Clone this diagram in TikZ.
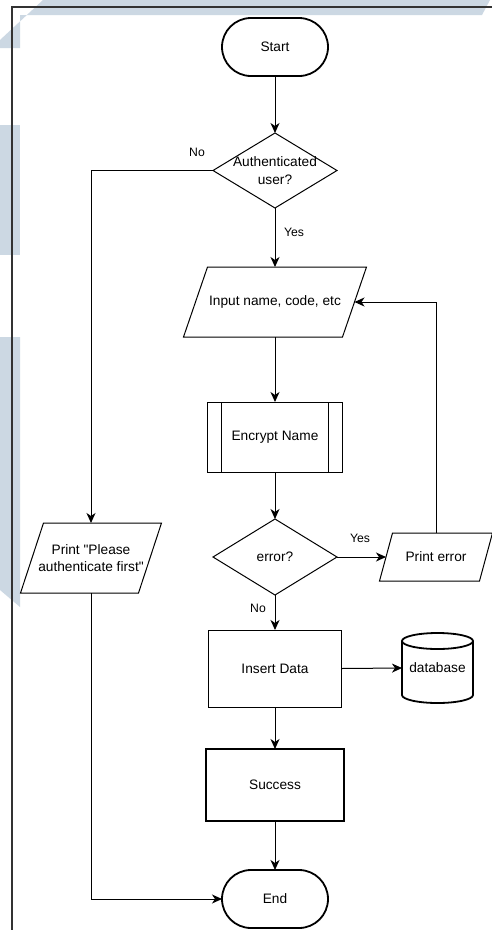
\documentclass[tikz,border=0pt]{standalone}
\usepackage{fontspec}
\newfontfamily\lsans{Liberation Sans}
\usetikzlibrary{shapes.geometric,arrows.meta,calc}
\definecolor{wm}{RGB}{204,216,227}
\definecolor{framec}{RGB}{51,51,51}
\begin{document}
\begin{tikzpicture}[x=1pt,y=1pt,
  every node/.style={font=\lsans\fontsize{13.7}{17.5}\selectfont, align=center, inner sep=0pt, outer sep=0pt},
  conn/.style={line width=1pt, -{Stealth[length=10pt,width=9pt,inset=3pt]}},
  term/.style={draw, line width=1.8pt, rectangle, rounded corners=29pt, minimum width=106pt, minimum height=58pt},
  proc/.style={draw, line width=1pt, rectangle},
  dec/.style={draw, line width=1pt, diamond, minimum width=124pt, minimum height=75pt},
  iobox/.style={rectangle},
  shapeline/.style={line width=1pt},
  lbl/.style={font=\lsans\fontsize{12.2}{14}\selectfont}
]
\fill[white] (0,0) rectangle (492,-930);
\useasboundingbox (0,0) rectangle (492,-930);
% watermark
\fill[wm] (43,0) -- (490,0) -- (482,-15) -- (20,-15) -- (20,-48) -- (0,-48) -- (0,-40) -- cycle;
\fill[wm] (0,-125) rectangle (20,-255);
\fill[wm] (0,-337) -- (20,-337) -- (20,-607) -- (0,-590) -- cycle;
% frame
\draw[framec, line width=1.2pt] (12,-931) -- (12,-7) -- (493,-7);

% nodes
\node[term] (start) at (275,-47) {Start};
\node[dec] (d1) at (275,-170.5) {};
\node (t1) at (d1) {Authenticated\\user?};

\node[iobox, minimum width=159pt, minimum height=70pt] (inp) at (275,-302) {Input name, code, etc};
\draw[shapeline] ([xshift=12pt]inp.north west) -- ([xshift=12pt]inp.north east) -- ([xshift=-12pt]inp.south east) -- ([xshift=-12pt]inp.south west) -- cycle;

\node[proc, minimum width=135pt, minimum height=70pt] (enc) at (275,-437) {Encrypt Name};
\draw[shapeline] ([xshift=14pt]enc.north west) -- ([xshift=14pt]enc.south west)
                 ([xshift=-14pt]enc.north east) -- ([xshift=-14pt]enc.south east);

\node[dec, minimum height=76pt] (d2) at (275,-557) {};
\node (t2) at (d2) {error?};

\node[iobox, minimum width=100pt, minimum height=48pt] (pe) at (436,-557) {Print error};
\draw[shapeline] ([xshift=6.5pt]pe.north west) -- ([xshift=6.5pt]pe.north east) -- ([xshift=-6.5pt]pe.south east) -- ([xshift=-6.5pt]pe.south west) -- cycle;

\node[proc, minimum width=133pt, minimum height=77pt] (ins) at (275,-668.5) {Insert Data};

\node[minimum width=71pt, minimum height=70pt] (db) at (437.5,-668) {database};
\draw[line width=1.8pt] ([yshift=-8pt]db.north) ellipse [x radius=35.5pt, y radius=8pt];
\draw[line width=1.8pt] ([yshift=-8pt]db.north west) -- ([yshift=8pt]db.south west)
   arc[start angle=180, end angle=360, x radius=35.5pt, y radius=8pt] -- ([yshift=-8pt]db.north east);

\node[proc, line width=2pt, minimum width=138pt, minimum height=72pt] (suc) at (275,-785) {Success};

\node[term] (end) at (275,-899) {End};

\node[iobox, minimum width=118pt, minimum height=70pt] (pp) at (91,-558) {Print "Please\\authenticate first"};
\draw[shapeline] ([xshift=11.5pt]pp.north west) -- ([xshift=11.5pt]pp.north east) -- ([xshift=-11.5pt]pp.south east) -- ([xshift=-11.5pt]pp.south west) -- cycle;

% connectors
\draw[conn] (start.south) -- (d1.north);
\draw[conn] (d1.west) -| (pp.north);
\draw[conn] (d1.south) -- (inp.north);
\draw[conn] (inp.south) -- (enc.north);
\draw[conn] (enc.south) -- (d2.north);
\draw[conn] (d2.east) -- (pe.west);
\draw[conn] (pe.north) |- (inp.east);
\draw[conn] (d2.south) -- (ins.north);
\draw[conn] (ins.east) -- (db.west);
\draw[conn] (ins.south) -- (suc.north);
\draw[conn] (suc.south) -- (end.north);
\draw[conn] (pp.south) |- (end.west);

% labels
\node[lbl] (lno1) at (197,-152) {No};
\node[lbl] (lyes1) at (294,-232) {Yes};
\node[lbl] (lyes2) at (360,-538) {Yes};
\node[lbl] (lno2) at (258,-608) {No};
\end{tikzpicture}
\end{document}
